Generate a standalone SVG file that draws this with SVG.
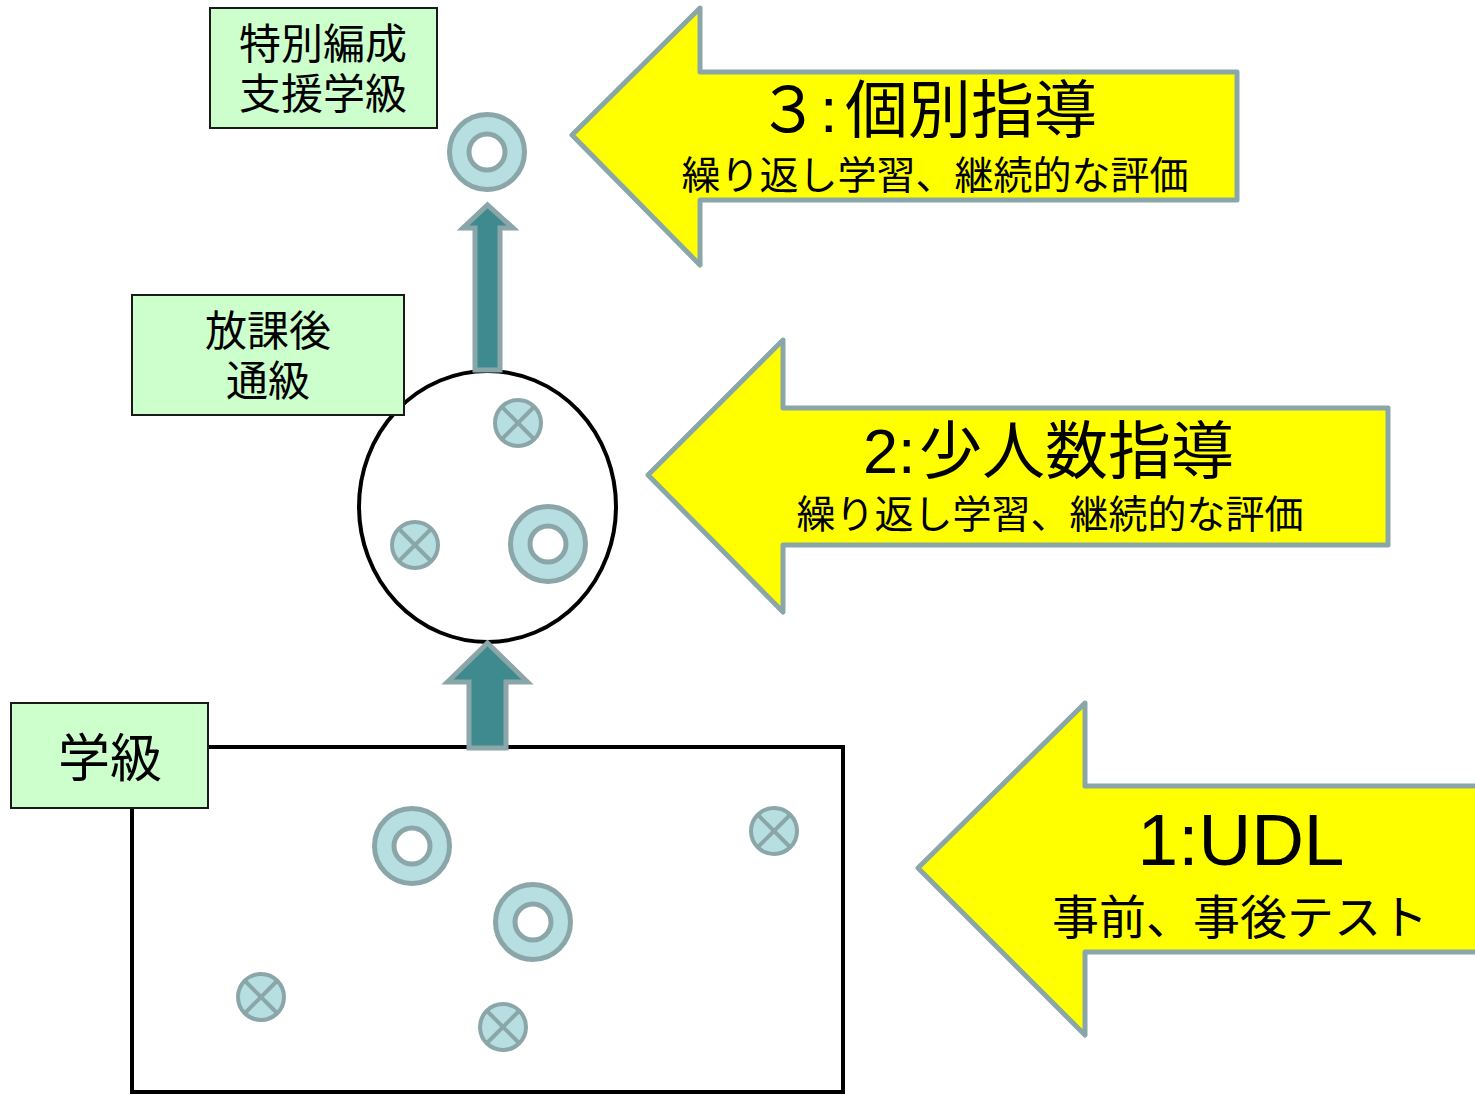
<svg xmlns="http://www.w3.org/2000/svg" width="1475" height="1095" viewBox="0 0 1475 1095">
<style>
.big{fill:#FFFF00;stroke:#8BA6A8;stroke-width:5;stroke-linejoin:round}
.lbl{fill:#CCFFCC;stroke:#1a1a1a;stroke-width:2}
.t{font-family:"Liberation Sans","Noto Sans CJK JP",sans-serif;fill:#000;text-anchor:middle}
.ts{font-family:"Liberation Sans","Noto Sans CJK JP",sans-serif;fill:#000;text-anchor:start}
.ring{fill:#B7DFE2;stroke:#8BA6A8;stroke-width:5}
.hole{fill:#fff;stroke:#8BA6A8;stroke-width:5}
.xc{fill:#B7DFE2;stroke:#8BA6A8;stroke-width:4}
.xl{stroke:#8BA6A8;stroke-width:4}
.up{fill:#3F8A8E;stroke:#8BA6A8;stroke-width:5;stroke-linejoin:miter}
</style>
<defs>
<g id="ringSym"><circle class="ring" r="37.5"/><circle class="hole" r="18"/></g>
<g id="xSym"><circle class="xc" r="23"/><line class="xl" x1="-16" y1="-16" x2="16" y2="16"/><line class="xl" x1="-16" y1="16" x2="16" y2="-16"/></g>
</defs>

<g id="classroom">
<rect x="132" y="747" width="711" height="345" fill="#fff" stroke="#000" stroke-width="4"/>
<use href="#ringSym" x="412" y="846"/>
<use href="#ringSym" x="533" y="922"/>
<use href="#xSym" x="774" y="831"/>
<use href="#xSym" x="261" y="997"/>
<use href="#xSym" x="503" y="1027"/>
</g>

<g id="label-gakkyu">
<rect class="lbl" x="11" y="703" width="197" height="105"/>
<text class="t" x="110" y="777" font-size="52">学級</text>
</g>

<g id="tsukyu-circle">
<ellipse cx="487.5" cy="506.5" rx="128.5" ry="135.5" fill="#fff" stroke="#000" stroke-width="4"/>
<use href="#xSym" x="518" y="423"/>
<use href="#xSym" x="415" y="545"/>
<use href="#ringSym" x="548" y="544"/>
</g>

<g id="label-tsukyu">
<rect class="lbl" x="132" y="295" width="272" height="120"/>
<text class="t" x="268" y="346" font-size="42">放課後</text>
<text class="t" x="268" y="396" font-size="42">通級</text>
</g>

<g id="tokubetsu-ring">
<use href="#ringSym" x="487" y="152"/>
</g>

<g id="label-tokubetsu">
<rect class="lbl" x="210" y="8" width="227" height="120"/>
<text class="t" x="323" y="59" font-size="42">特別編成</text>
<text class="t" x="323" y="109" font-size="42">支援学級</text>
</g>

<g id="connectors">
<path class="up" d="M469,748 V682 H447.5 L487.5,643 L527.5,682 H506 V748 Z"/>
<path class="up" d="M475,370 V228 H463 L487.5,205 L513,228 H500 V370 Z"/>
</g>

<g id="arrow3">
<path class="big" d="M1237,72 H700 V8 L572,135 L700,265 V200 H1237 Z"/>
<text class="ts" x="757" y="132" font-size="63">３<tspan x="820">:</tspan><tspan x="845">個別指導</tspan></text>
<text class="t" x="935" y="189" font-size="39">繰り返し学習、継続的な評価</text>
</g>

<g id="arrow2">
<path class="big" d="M1388,408 H783 V340 L648,475 L783,612 V545 H1388 Z"/>
<text class="ts" x="863" y="473" font-size="63">2:<tspan x="919">少人数指導</tspan></text>
<text class="t" x="1050" y="528" font-size="39">繰り返し学習、継続的な評価</text>
</g>

<g id="arrow1">
<path class="big" d="M1480,786 H1085 V703 L918,868 L1085,1035 V952 H1480 Z"/>
<text class="t" x="1241" y="865" font-size="73">1:UDL</text>
<text class="t" x="1240" y="934" font-size="47">事前、事後テスト</text>
</g>
</svg>
